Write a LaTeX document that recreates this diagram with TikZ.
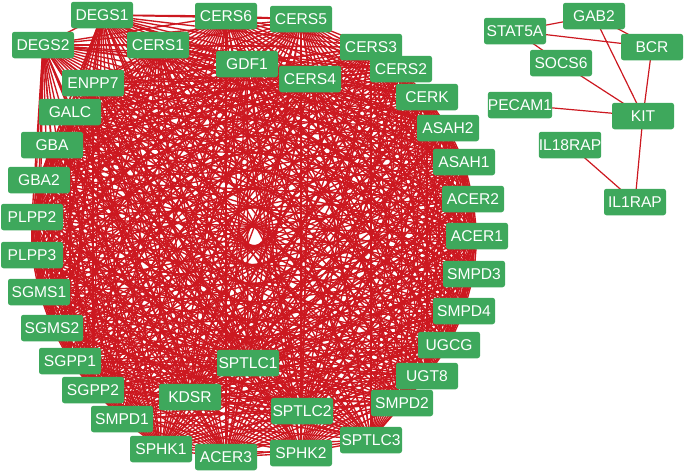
\documentclass[tikz,border=0pt]{standalone}
\usepackage{fontspec}
\setmainfont{Liberation Sans}
\usetikzlibrary{backgrounds}
\definecolor{nodegreen}{RGB}{62,168,92}
\definecolor{edgered}{RGB}{204,24,32}
\tikzset{
  gene/.style={fill=nodegreen, rounded corners=2.5pt, minimum width=62pt,
    minimum height=26.5pt, inner sep=0pt, text=white,
    font=\fontsize{15.6}{16}\selectfont},
  link/.style={draw=edgered, line width=1.35pt},
  sidelink/.style={draw=edgered, line width=1.2pt},
}
\def\leftlist{DEGS1,DEGS2,CERS1,CERS6,CERS5,CERS3,CERS2,GDF1,CERS4,CERK,ENPP7,GALC,ASAH2,GBA,ASAH1,GBA2,ACER2,PLPP2,ACER1,PLPP3,SMPD3,SGMS1,SMPD4,SGMS2,UGCG,SGPP1,SPTLC1,UGT8,SGPP2,KDSR,SMPD1,SPTLC2,SMPD2,SPHK1,ACER3,SPHK2,SPTLC3}
\begin{document}
\begin{tikzpicture}[x=1pt,y=-1pt]
\useasboundingbox (0,0) rectangle (685,472);
% left cluster
\node[gene] (DEGS1) at (102,15) {DEGS1};
\node[gene] (DEGS2) at (43,45) {DEGS2};
\node[gene] (CERS1) at (158,45) {CERS1};
\node[gene] (CERS6) at (226,16) {CERS6};
\node[gene] (CERS5) at (301,19) {CERS5};
\node[gene] (CERS3) at (371,47) {CERS3};
\node[gene] (CERS2) at (401,69) {CERS2};
\node[gene] (GDF1) at (247,64) {GDF1};
\node[gene] (CERS4) at (310,79) {CERS4};
\node[gene] (CERK) at (427,97) {CERK};
\node[gene] (ENPP7) at (93,83) {ENPP7};
\node[gene] (GALC) at (70,112) {GALC};
\node[gene] (ASAH2) at (448,128) {ASAH2};
\node[gene] (GBA) at (52,145) {GBA};
\node[gene] (ASAH1) at (464,162) {ASAH1};
\node[gene] (GBA2) at (39,180) {GBA2};
\node[gene] (ACER2) at (473,199) {ACER2};
\node[gene] (PLPP2) at (32,217) {PLPP2};
\node[gene] (ACER1) at (477,236) {ACER1};
\node[gene] (PLPP3) at (32,255) {PLPP3};
\node[gene] (SMPD3) at (474,274) {SMPD3};
\node[gene] (SGMS1) at (39,292) {SGMS1};
\node[gene] (SMPD4) at (464,311) {SMPD4};
\node[gene] (SGMS2) at (52,328) {SGMS2};
\node[gene] (UGCG) at (449,345) {UGCG};
\node[gene] (SGPP1) at (70,361) {SGPP1};
\node[gene] (SPTLC1) at (248,363) {SPTLC1};
\node[gene] (UGT8) at (427,376) {UGT8};
\node[gene] (SGPP2) at (93,390) {SGPP2};
\node[gene] (KDSR) at (190,397) {KDSR};
\node[gene] (SMPD1) at (122,419) {SMPD1};
\node[gene] (SPTLC2) at (302,411) {SPTLC2};
\node[gene] (SMPD2) at (402,403) {SMPD2};
\node[gene] (SPHK1) at (161,449) {SPHK1};
\node[gene] (ACER3) at (226,457) {ACER3};
\node[gene] (SPHK2) at (301,453) {SPHK2};
\node[gene] (SPTLC3) at (371,440) {SPTLC3};
% right cluster
\node[gene] (GAB2) at (594,16) {GAB2};
\node[gene] (STAT5A) at (515,31) {STAT5A};
\node[gene] (BCR) at (652,47) {BCR};
\node[gene] (SOCS6) at (561,63) {SOCS6};
\node[gene] (PECAM1) at (520,105) {PECAM1};
\node[gene] (KIT) at (643,116) {KIT};
\node[gene] (IL18RAP) at (570,145) {IL18RAP};
\node[gene] (IL1RAP) at (635,202) {IL1RAP};
\begin{pgfonlayer}{background}
\foreach \a [count=\i] in \leftlist {
  \foreach \b [count=\j] in \leftlist {
    \ifnum\j>\i \draw[link] (\a.center) -- (\b.center); \fi
  }
}
\foreach \a/\b in {STAT5A/GAB2,STAT5A/BCR,STAT5A/SOCS6,GAB2/BCR,GAB2/KIT,SOCS6/KIT,BCR/KIT,PECAM1/KIT,KIT/IL1RAP,IL18RAP/IL1RAP}
  \draw[sidelink] (\a.center) -- (\b.center);
\end{pgfonlayer}
\end{tikzpicture}
\end{document}
